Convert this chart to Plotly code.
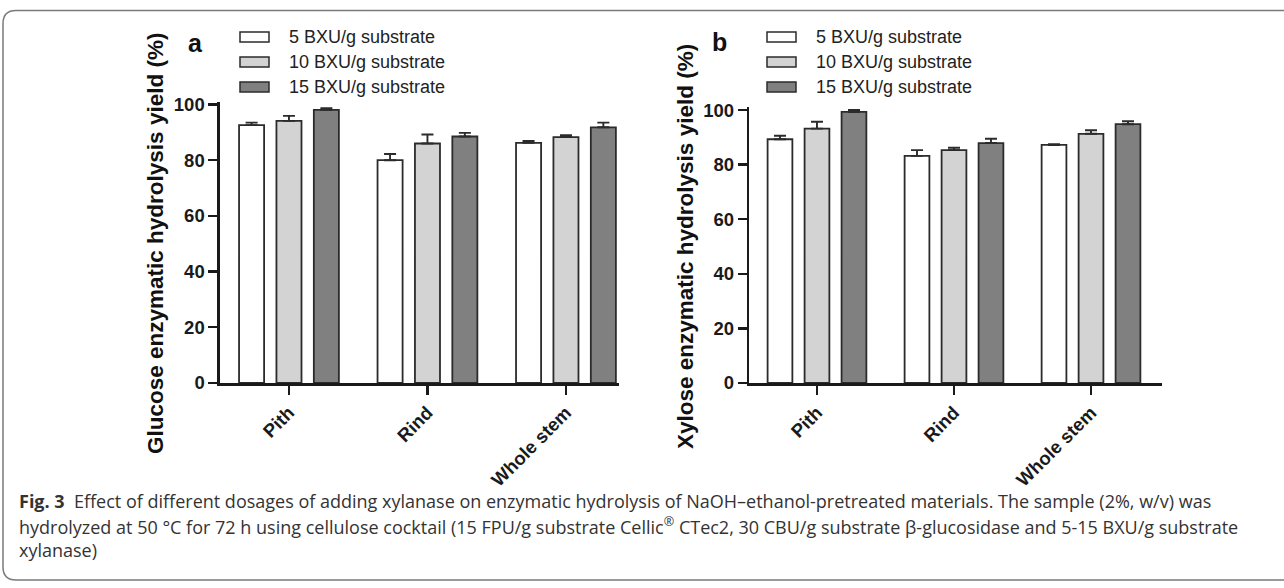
import plotly.graph_objects as go

W, H = 1284, 588

categories = ["Pith", "Rind", "Whole stem"]
series_names = ["5 BXU/g substrate", "10 BXU/g substrate", "15 BXU/g substrate"]
series_colors = ["#ffffff", "#d3d3d3", "#808080"]

# Panel a: glucose enzymatic hydrolysis yield (%)
glucose_5 = [92.6, 80.0, 86.2]
glucose_10 = [94.1, 86.0, 88.3]
glucose_15 = [98.1, 88.5, 91.8]
glucose_5_err = [0.9, 2.2, 0.7]
glucose_10_err = [1.8, 3.2, 0.7]
glucose_15_err = [0.6, 1.3, 1.7]

# Panel b: xylose enzymatic hydrolysis yield (%)
xylose_5 = [89.3, 83.2, 87.2]
xylose_10 = [93.2, 85.3, 91.3]
xylose_15 = [99.3, 87.9, 94.8]
xylose_5_err = [1.3, 2.1, 0.3]
xylose_10_err = [2.5, 0.9, 1.3]
xylose_15_err = [0.7, 1.6, 1.1]

y_ticks = [0, 20, 40, 60, 80, 100]

caption_lines = [
    "<b>Fig. 3</b>  Effect of different dosages of adding xylanase on enzymatic hydrolysis of NaOH\u2013ethanol-pretreated materials. The sample (2%, w/v) was",
    "hydrolyzed at 50 \u00b0C for 72 h using cellulose cocktail (15 FPU/g substrate Cellic<sup>\u00ae</sup> CTec2, 30 CBU/g substrate \u03b2-glucosidase and 5-15 BXU/g substrate",
    "xylanase)",
]

def px(x):
    return x / W

def py(y):
    return 1 - y / H

AX = "#1a1a1a"
FONT = "Liberation Sans, Arial, sans-serif"

fig = go.Figure()

panel_a = [(glucose_5, glucose_5_err), (glucose_10, glucose_10_err), (glucose_15, glucose_15_err)]
panel_b = [(xylose_5, xylose_5_err), (xylose_10, xylose_10_err), (xylose_15, xylose_15_err)]

for (xa, ya), data in (("x", "y"), panel_a), (("x2", "y2"), panel_b):
    for name, color, (vals, errs) in zip(series_names, series_colors, data):
        fig.add_trace(go.Bar(
            x=categories, y=vals, name=name, xaxis=xa, yaxis=ya,
            marker=dict(color=color, line=dict(color="#2b2b2b", width=1.8)),
            error_y=dict(type="data", symmetric=False, array=errs,
                         arrayminus=[0] * len(errs), color="#2b2b2b",
                         thickness=1.9, width=6),
            showlegend=False, hoverinfo="skip",
        ))

axis_common = dict(
    showline=True, linecolor=AX, linewidth=2.6, ticks="outside",
    tickcolor=AX, tickwidth=2.4, ticklen=9, showgrid=False, zeroline=False,
    automargin=False, fixedrange=True,
    tickfont=dict(family=FONT, size=18.5, color="#1a1a1a", weight="bold"),
)

fig.update_layout(
    template="none",
    width=W, height=H,
    margin=dict(l=0, r=0, t=0, b=0, pad=0, autoexpand=False),
    paper_bgcolor="white", plot_bgcolor="white",
    showlegend=False, hovermode=False,
    barmode="group", bargap=0.19, bargroupgap=0.33,
    xaxis=dict(domain=[px(220), px(619)], range=[-0.498, 2.383],
               tickangle=-45, anchor="y", **axis_common),
    yaxis=dict(domain=[py(383), py(101.7)], range=[0, 101], tickvals=y_ticks,
               anchor="x", **axis_common),
    xaxis2=dict(domain=[px(749.3), px(1161.7)], range=[-0.494, 2.516],
                tickangle=-45, anchor="y2", **axis_common),
    yaxis2=dict(domain=[py(383), py(107.3)], range=[0, 101], tickvals=y_ticks,
                anchor="x2", **axis_common),
)

shapes = []
annotations = []

# Legends (one per panel)
for box_x, text_x in ((240, 287), (767, 814)):
    for i, (name, color) in enumerate(zip(series_names, series_colors)):
        yc = 37 + 25 * i
        shapes.append(dict(type="rect", xref="paper", yref="paper",
                           x0=px(box_x), x1=px(box_x + 29), y0=py(yc + 5), y1=py(yc - 5),
                           fillcolor=color, line=dict(color="#2b2b2b", width=1.5)))
        annotations.append(dict(xref="paper", yref="paper", x=px(text_x), y=py(yc),
                                xanchor="left", yanchor="middle", showarrow=False,
                                text=name, font=dict(family=FONT, size=18, color="#222222")))

# Panel letters
annotations.append(dict(xref="paper", yref="paper", x=px(195), y=py(43), showarrow=False,
                        xanchor="center", yanchor="middle", text="<b>a</b>",
                        font=dict(family=FONT, size=25, color="#111111")))
annotations.append(dict(xref="paper", yref="paper", x=px(720), y=py(42), showarrow=False,
                        xanchor="center", yanchor="middle", text="<b>b</b>",
                        font=dict(family=FONT, size=25, color="#111111")))

# Y-axis titles
annotations.append(dict(xref="paper", yref="paper", x=px(155), y=py(244), showarrow=False,
                        xanchor="center", yanchor="middle", textangle=-90,
                        text="<b>Glucose enzymatic hydrolysis yield (%)</b>",
                        font=dict(family=FONT, size=22.5, color="#111111")))
annotations.append(dict(xref="paper", yref="paper", x=px(686), y=py(247), showarrow=False,
                        xanchor="center", yanchor="middle", textangle=-90,
                        text="<b>Xylose enzymatic hydrolysis yield (%)</b>",
                        font=dict(family=FONT, size=22.5, color="#111111")))

# Caption
for i, line in enumerate(caption_lines):
    annotations.append(dict(xref="paper", yref="paper", x=px(17), y=py(501 + 24.5 * i),
                            xanchor="left", yanchor="middle", showarrow=False, align="left",
                            text=line, font=dict(family="Open Sans, Noto Sans, sans-serif",
                                                 size=18, color="#333333")))

# Figure frame (rounded left corners, open to the right edge)
x_l, x_r, y_t, y_b, r = 3, W + 5, 10.5, 580, 13
path = (f"M {px(x_r)},{py(y_t)} L {px(x_l + r)},{py(y_t)} "
        f"Q {px(x_l)},{py(y_t)} {px(x_l)},{py(y_t + r)} "
        f"L {px(x_l)},{py(y_b - r)} Q {px(x_l)},{py(y_b)} {px(x_l + r)},{py(y_b)} "
        f"L {px(x_r)},{py(y_b)}")
shapes.append(dict(type="path", xref="paper", yref="paper", path=path,
                   line=dict(color="#7a7a7a", width=1.5)))

fig.update_layout(shapes=shapes, annotations=annotations)

fig.write_html(
    "out.html",
    config={"displayModeBar": False, "staticPlot": True},
    post_script="document.body.style.margin='0';document.body.style.padding='0';"
                "document.body.style.overflow='hidden';",
)
